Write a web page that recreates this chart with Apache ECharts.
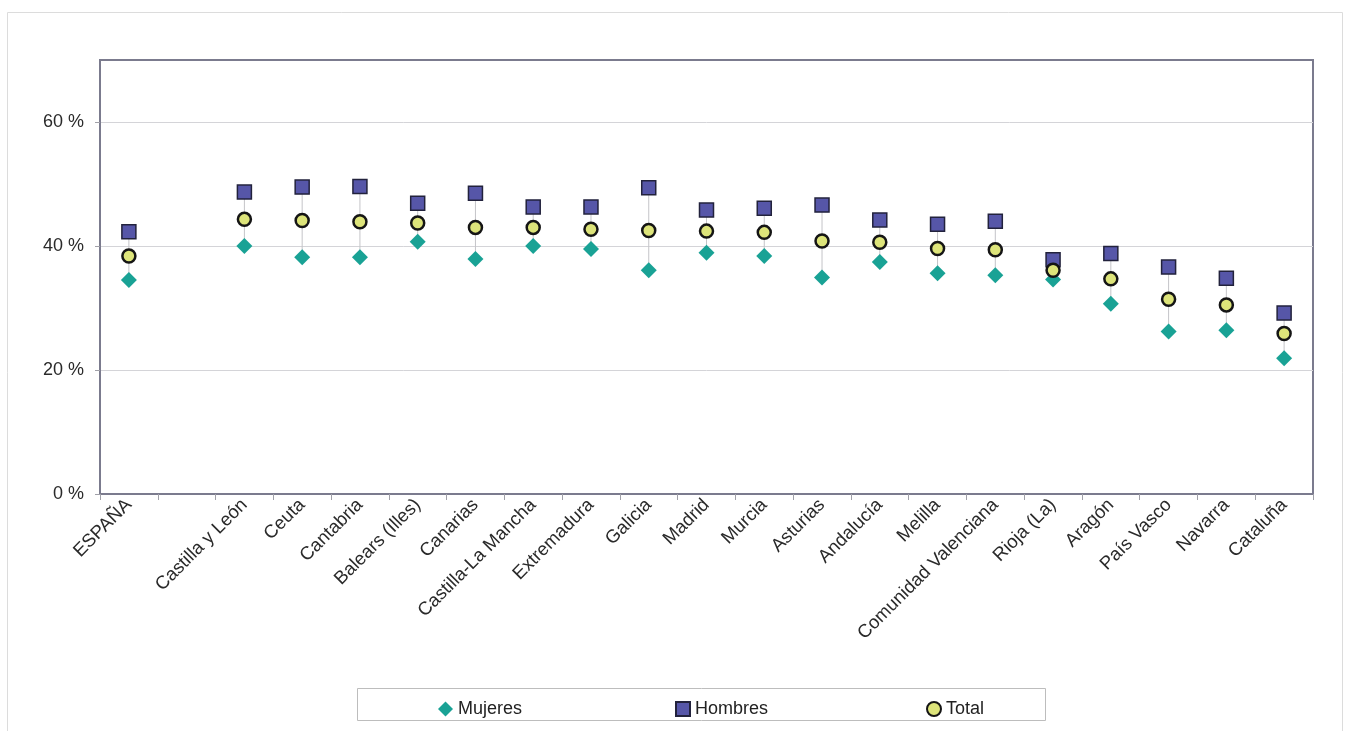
<!DOCTYPE html>
<html>
<head>
<meta charset="utf-8">
<script src="https://cdn.jsdelivr.net/npm/echarts@6/dist/echarts.min.js"></script>
<style>
html,body{margin:0;padding:0;background:#fff;}
#chart{width:1346px;height:731px;}
</style>
</head>
<body>
<div id="chart"></div>
<script>
const categories = ['ESPAÑA', '', 'Castilla y León', 'Ceuta', 'Cantabria', 'Balears (Illes)', 'Canarias', 'Castilla-La Mancha', 'Extremadura', 'Galicia', 'Madrid', 'Murcia', 'Asturias', 'Andalucía', 'Melilla', 'Comunidad Valenciana', 'Rioja (La)', 'Aragón', 'País Vasco', 'Navarra', 'Cataluña'];
const mujeres = [34.5, null, 40.0, 38.2, 38.2, 40.7, 37.9, 40.0, 39.5, 36.1, 38.9, 38.4, 34.9, 37.4, 35.6, 35.3, 34.6, 30.7, 26.2, 26.4, 21.9];
const hombres = [42.3, null, 48.7, 49.5, 49.6, 46.9, 48.5, 46.3, 46.3, 49.4, 45.8, 46.1, 46.6, 44.2, 43.5, 44.0, 37.8, 38.8, 36.6, 34.8, 29.2];
const total = [38.4, null, 44.3, 44.1, 43.9, 43.7, 43.0, 43.0, 42.7, 42.5, 42.4, 42.2, 40.8, 40.6, 39.6, 39.4, 36.1, 34.7, 31.4, 30.5, 25.9];
const yTicks = [0, 20, 40, 60];

const chart = echarts.init(document.getElementById('chart'), null, {renderer: 'canvas'});

const rangeData = categories.map((c, i) => [i, mujeres[i], hombres[i]]).filter(d => d[1] != null && d[2] != null);

const legendText = {fontFamily: 'Liberation Sans, Arial, sans-serif', fontSize: 18, color: '#222'};

const option = {
  backgroundColor: '#fff',
  animation: false,
  graphic: [
    {type: 'rect', shape: {x: 7.5, y: 12.5, width: 1335, height: 730}, style: {fill: 'none', stroke: '#dcdcdc', lineWidth: 1}, silent: true},
    {type: 'rect', shape: {x: 357.5, y: 688.5, width: 688, height: 32}, style: {fill: 'none', stroke: '#bdbdbd', lineWidth: 1}, silent: true}
  ],
  grid: {left: 100, right: 33, top: 60, bottom: 237, show: true, borderColor: '#7b7b8e', borderWidth: 2, containLabel: false},
  legend: [
    {data: ['Mujeres'], left: 433, top: 695, itemWidth: 15, itemHeight: 15, itemGap: 0, textStyle: legendText},
    {data: ['Hombres'], left: 670, top: 695, itemWidth: 14, itemHeight: 14, itemGap: 0, textStyle: legendText},
    {data: ['Total'], left: 921, top: 695, itemWidth: 14, itemHeight: 14, itemGap: 0, textStyle: legendText}
  ],
  xAxis: {
    type: 'category',
    data: categories,
    boundaryGap: true,
    axisLine: {lineStyle: {color: '#7b7b8e', width: 2}},
    axisTick: {show: true, length: 6, lineStyle: {color: '#a0a0a8'}},
    axisLabel: {rotate: 45, interval: 0, margin: 8, fontFamily: 'Liberation Sans, Arial, sans-serif', fontSize: 18.5, color: '#2a2a2a'},
    splitLine: {show: false}
  },
  yAxis: {
    type: 'value',
    min: 0, max: 70, interval: 20,
    axisLine: {show: true, lineStyle: {color: '#7b7b8e', width: 2}},
    axisTick: {show: true, length: 5, lineStyle: {color: '#a0a0a8'}, customValues: yTicks},
    axisLabel: {customValues: yTicks, formatter: v => v + ' %', margin: 16, fontFamily: 'Liberation Sans, Arial, sans-serif', fontSize: 18, color: '#2a2a2a'},
    splitLine: {show: true, lineStyle: {color: '#d4d4d8', width: 1}}
  },
  series: [
    {
      type: 'custom',
      name: 'range',
      z: 1,
      silent: true,
      data: rangeData,
      encode: {x: 0, y: [1, 2]},
      renderItem: function (params, api) {
        const p1 = api.coord([api.value(0), api.value(1)]);
        const p2 = api.coord([api.value(0), api.value(2)]);
        return {type: 'line', shape: {x1: p1[0], y1: p1[1], x2: p2[0], y2: p2[1]}, style: {stroke: '#c4c4c8', lineWidth: 1}};
      }
    },
    {
      name: 'Mujeres', type: 'scatter', data: mujeres, z: 2,
      symbol: 'diamond', symbolSize: 16,
      itemStyle: {color: '#19a295', opacity: 1}
    },
    {
      name: 'Hombres', type: 'scatter', data: hombres, z: 3,
      symbol: 'rect', symbolSize: 14,
      itemStyle: {color: '#5656a8', borderColor: '#22223c', borderWidth: 1.5, opacity: 1}
    },
    {
      name: 'Total', type: 'scatter', data: total, z: 4,
      symbol: 'circle', symbolSize: 13,
      itemStyle: {color: '#dde47a', borderColor: '#151515', borderWidth: 2.5, opacity: 1}
    }
  ]
};
chart.setOption(option);
</script>
</body>
</html>
